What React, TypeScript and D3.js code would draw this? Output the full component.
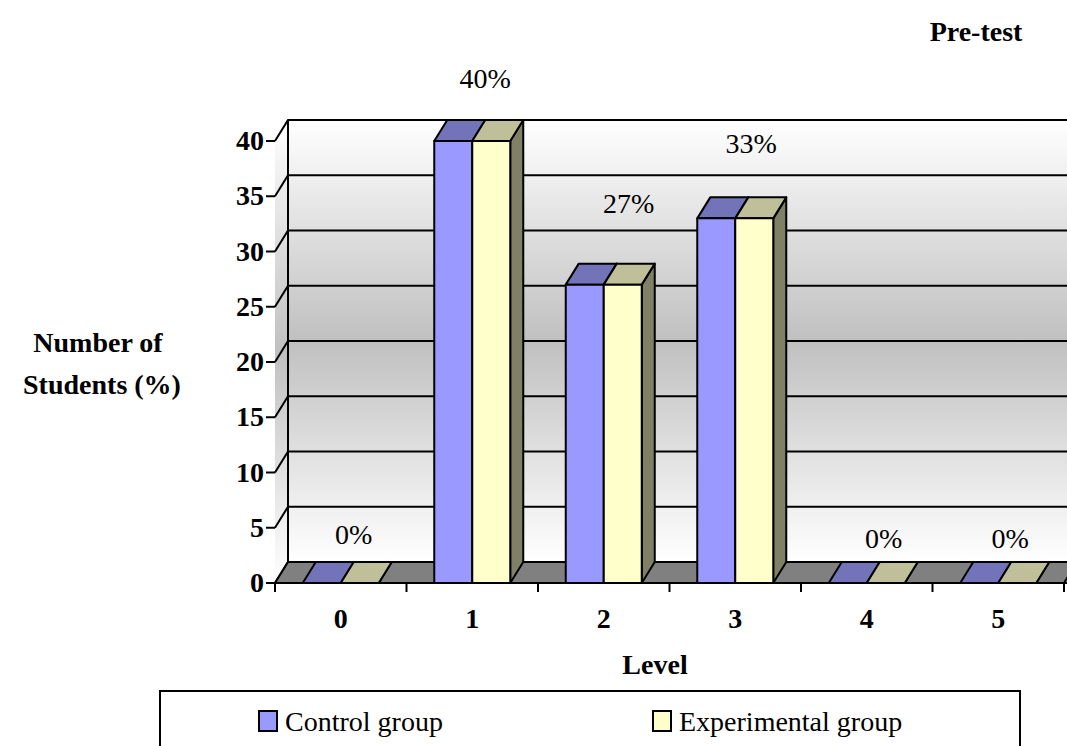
import React from "react";
import * as d3 from "d3";

const categories = ["0", "1", "2", "3", "4", "5"];
const controlValues = [0, 40, 27, 33, 0, 0];
const experimentalValues = [0, 40, 27, 33, 0, 0];
const pointLabels = ["0%", "40%", "27%", "33%", "0%", "0%"];
const yTicks = [0, 5, 10, 15, 20, 25, 30, 35, 40];
const seriesNames = ["Control group", "Experimental group"];

// layout
const W = 1067, H = 746;
const DX = 13, DY = -21;
const barW = 38;
const labelDx = [13, 13, 25, 16, 17, 12];
const labelBaselines = [545, 88, 213, 153, 548, 548].map((v, i) => (i === 0 ? 544 : v));
const frontColors = ["#9999ff", "#ffffcc"];
const topColors = ["#7373b9", "#bfbf99"];
const sideColors = ["#737399", "#808066"];
const serif = "'Liberation Serif', 'Times New Roman', serif";

const x = d3.scaleBand<string>().domain(categories).range([275, 1064]);
const y = d3.scaleLinear().domain([0, 40]).range([583, 141]);
const pts = (a: number[][]) => a.map((p) => p.join(",")).join(" ");

export default function App() {
  const floor = y(0);
  const xL = x.range()[0], xR = x.range()[1];
  const farR = W + 30;
  return (
    <svg width={W} height={H} viewBox={`0 0 ${W} ${H}`} style={{ position: "absolute", left: 0, top: 0, background: "#fff" }} fontFamily={serif}>
      <defs>
        <linearGradient id="wall" x1="0" y1="0" x2="0" y2="1">
          <stop offset="0" stopColor="#ffffff" />
          <stop offset="0.5" stopColor="#c0c0c0" />
          <stop offset="1" stopColor="#ffffff" />
        </linearGradient>
      </defs>
      {/* back wall */}
      <rect x={xL + DX} y={y(40) + DY} width={farR} height={floor - y(40)} fill="url(#wall)" />
      <polygon points={pts([[xL, y(40)], [xL + DX, y(40) + DY], [xL + DX, floor + DY], [xL, floor]])} fill="url(#wall)" />
      {/* grid */}
      {yTicks.map((t) => (
        <polyline key={t} fill="none" stroke="#000" strokeWidth={2}
          points={pts([[xL, y(t)], [xL + DX, y(t) + DY], [farR, y(t) + DY]])} />
      ))}
      <line x1={xL + DX} x2={xL + DX} y1={y(40) + DY} y2={floor + DY} stroke="#000" strokeWidth={2} />
      {/* floor */}
      <polygon points={pts([[xL, floor], [xL + DX, floor + DY], [farR + DX, floor + DY], [farR, floor]])} fill="#808080" stroke="#000" strokeWidth={2} />
      <line x1={xR} y1={floor} x2={xR + DX} y2={floor + DY} stroke="#000" strokeWidth={2} />
      {/* bars */}
      {categories.map((c, i) => {
        const center = x(c)! + x.bandwidth() / 2;
        return [controlValues[i], experimentalValues[i]].map((v, s) => {
          const l = center - barW + s * barW;
          const r = l + barW;
          const t = y(v);
          return (
            <g key={c + s} stroke="#000" strokeWidth={2} strokeLinejoin="round">
              <polygon fill={sideColors[s]} points={pts([[r, t], [r + DX, t + DY], [r + DX, floor + DY], [r, floor]])} />
              <polygon fill={topColors[s]} points={pts([[l, t], [l + DX, t + DY], [r + DX, t + DY], [r, t]])} />
              {v > 0 && <rect x={l} y={t} width={barW} height={floor - t} fill={frontColors[s]} />}
            </g>
          );
        });
      })}
      {/* axes */}
      <line x1={xL} x2={xL} y1={y(40)} y2={floor + 9} stroke="#000" strokeWidth={1.5} opacity={0} />
      <line x1={xL - 1} x2={W} y1={floor} y2={floor} stroke="#000" strokeWidth={2} />
      {yTicks.map((t) => (
        <g key={t}>
          <line x1={xL - 9} x2={xL} y1={y(t)} y2={y(t)} stroke="#000" strokeWidth={2} />
          <text x={xL - 11} y={y(t) + 9} textAnchor="end" fontSize={28} fontWeight="bold">{t}</text>
        </g>
      ))}
      {d3.range(categories.length + 1).map((i) => {
        const px = xL + i * x.step();
        return <line key={i} x1={px} x2={px} y1={floor} y2={floor + 9} stroke="#000" strokeWidth={2} />;
      })}
      {categories.map((c) => (
        <text key={c} x={x(c)! + x.bandwidth() / 2} y={628} textAnchor="middle" fontSize={28} fontWeight="bold">{c}</text>
      ))}
      {/* value labels */}
      {categories.map((c, i) => (
        <text key={c} x={x(c)! + x.bandwidth() / 2 + labelDx[i]} y={labelBaselines[i]} textAnchor="middle" fontSize={28}>{pointLabels[i]}</text>
      ))}
      {/* titles */}
      <text x={976} y={41} textAnchor="middle" fontSize={28} fontWeight="bold">Pre-test</text>
      <text x={98} y={352} textAnchor="middle" fontSize={28} fontWeight="bold">Number of</text>
      <text x={102} y={394} textAnchor="middle" fontSize={28} fontWeight="bold">Students (%)</text>
      <text x={655} y={674} textAnchor="middle" fontSize={28} fontWeight="bold">Level</text>
      {/* legend */}
      <rect x={160} y={691} width={860} height={70} fill="#fff" stroke="#000" strokeWidth={2} />
      {seriesNames.map((n, s) => {
        const lx = 259 + s * 394;
        return (
          <g key={n}>
            <rect x={lx} y={711} width={18} height={20} fill={frontColors[s]} stroke="#000" strokeWidth={2} />
            <text x={lx + 26} y={731} fontSize={28}>{n}</text>
          </g>
        );
      })}
    </svg>
  );
}
